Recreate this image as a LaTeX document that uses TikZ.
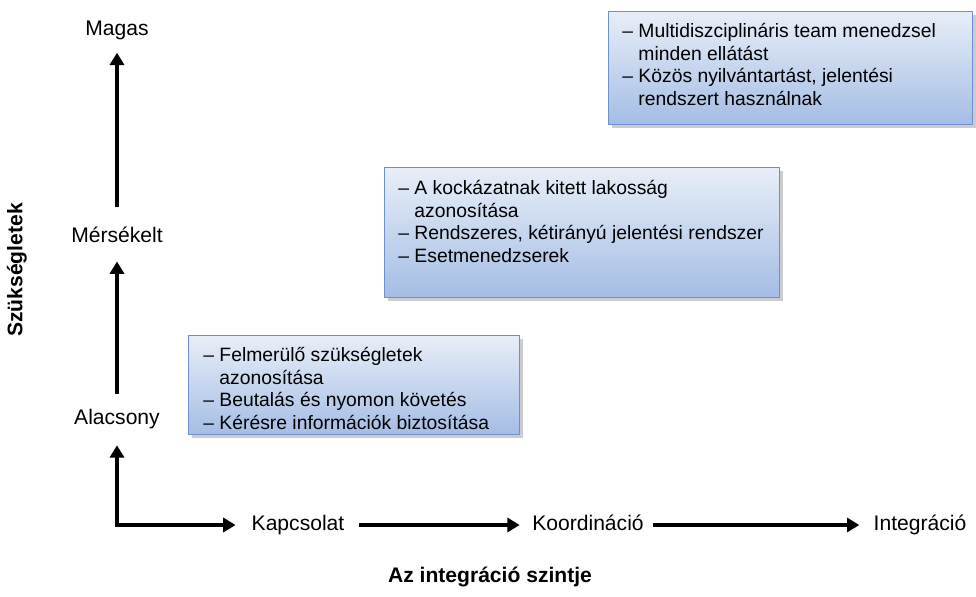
\documentclass[tikz,border=0pt]{standalone}
\usepackage{fontspec}
\setmainfont{Liberation Sans}
\usetikzlibrary{arrows.meta,shadows}

\begin{document}
\begin{tikzpicture}[x=0.02cm,y=-0.02cm]

	\definecolor{boxtop}{RGB}{232,238,248}
	\definecolor{boxbottom}{RGB}{164,189,228}
	\definecolor{boxline}{RGB}{110,145,205}

	\tikzset{level/.style = {font=\fontsize{12}{14}\selectfont, inner sep=0pt, text height=9pt, text depth=2.5pt}}
	\tikzset{title/.style = {font=\bfseries\fontsize{12}{14}\selectfont, inner sep=0pt}}
	\tikzset{axis/.style = {draw, line width=2.3pt, -{Triangle[width=8pt,length=7pt]}, shorten <=8pt, shorten >=8pt}}
	\tikzset{card/.style = {draw=boxline, line width=0.8pt, top color=boxtop, bottom color=boxbottom,
			drop shadow={shadow xshift=2pt, shadow yshift=-2pt, opacity=0.4}, anchor=north west, inner sep=0pt}}
	\tikzset{items/.style = {font=\fontsize{11}{12.8}\selectfont, anchor=base west, inner sep=0pt}}

	\useasboundingbox (0,0) rectangle (976,597);

	% levels of need
	\node[level] (magas) at (117,30) {Magas};
	\node[level] (merseklet) at (117,237) {Mérsékelt};
	\node[level] (alacsony) at (117,419) {Alacsony};

	% levels of integration
	\node[level] (kapcsolat) at (298,525) {Kapcsolat};
	\node[level] (koord) at (588,525) {Koordináció};
	\node[level] (integr) at (920,525) {Integráció};

	\node[title, rotate=90] (needs) at (17,270) {Szükségletek};
	\node[title] (scale) at (490,577) {Az integráció szintje};

	\draw[axis, shorten <=11pt, shorten >=7pt] (merseklet) to (magas);
	\draw[axis] (alacsony) to (merseklet);
	\draw[axis, {Triangle[width=8pt,length=7pt]}-{Triangle[width=8pt,length=7pt]}, shorten <=9pt, shorten >=9pt] (alacsony) |- (kapcsolat);
	\draw[axis, shorten >=7pt] (kapcsolat) to (koord);
	\draw[axis, shorten <=5pt] (koord) to (integr);

	% boxes
	\node[card, minimum width=6.62cm, minimum height=1.98cm] (low) at (188,335) {};
	\node[items] (lowtext) at (203,362) {\begin{tabular}[t]{@{}l@{ }l@{}}
		-- & Felmerülő szükségletek\\
		   & azonosítása\\
		-- & Beutalás és nyomon követés\\
		-- & Kérésre információk biztosítása
	\end{tabular}};

	\node[card, minimum width=7.9cm, minimum height=2.6cm] (mid) at (384,167) {};
	\node[items] (midtext) at (398,195) {\begin{tabular}[t]{@{}l@{ }l@{}}
		-- & A kockázatnak kitett lakosság\\
		   & azonosítása\\
		-- & Rendszeres, kétirányú jelentési rendszer\\
		-- & Esetmenedzserek
	\end{tabular}};

	\node[card, minimum width=7.28cm, minimum height=2.26cm] (high) at (608,11) {};
	\node[items] (hightext) at (622,38) {\begin{tabular}[t]{@{}l@{ }l@{}}
		-- & Multidiszciplináris team menedzsel\\
		   & minden ellátást\\
		-- & Közös nyilvántartást, jelentési\\
		   & rendszert használnak
	\end{tabular}};

\end{tikzpicture}
\end{document}
